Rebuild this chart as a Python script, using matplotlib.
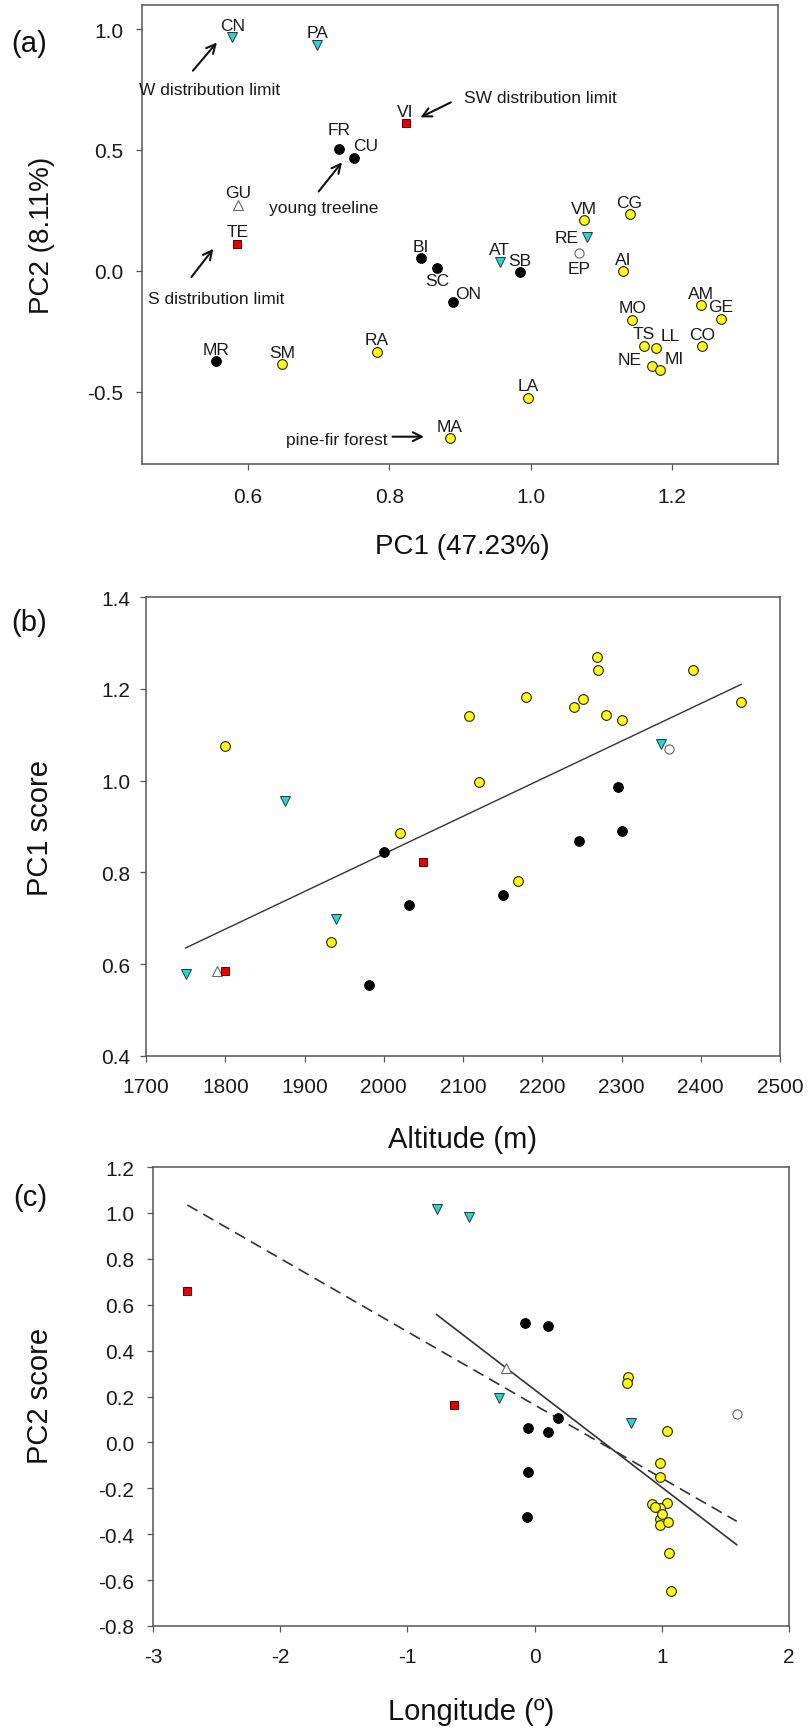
import numpy as np
import matplotlib.pyplot as plt

plt.rcParams['font.family'] = ['Liberation Sans', 'DejaVu Sans']
plt.rcParams['axes.unicode_minus'] = False

# Sites (panel a and b share them)
sites = ['CN', 'PA', 'RE', 'AT', 'VI', 'TE', 'FR', 'CU', 'BI', 'SC', 'ON', 'SB', 'MR', 'GU', 'EP',
         'SM', 'RA', 'LA', 'MA', 'VM', 'CG', 'AI', 'MO', 'AM', 'GE', 'TS', 'LL', 'CO', 'NE', 'MI']
groups = ['cyan'] * 4 + ['red'] * 2 + ['black'] * 7 + ['opentri', 'opencirc'] + ['yellow'] * 15
pc1 = [0.578, 0.698, 1.080, 0.956, 0.823, 0.585, 0.729, 0.750, 0.845, 0.868, 0.890, 0.985, 0.555, 0.586, 1.068,
       0.648, 0.782, 0.996, 0.886, 1.075, 1.140, 1.131, 1.144, 1.241, 1.269, 1.160, 1.177, 1.242, 1.171, 1.183]
pc2 = [0.966, 0.935, 0.139, 0.036, 0.610, 0.112, 0.504, 0.467, 0.052, 0.011, -0.129, -0.006, -0.375, 0.273, 0.073,
       -0.387, -0.336, -0.525, -0.694, 0.208, 0.233, -0.003, -0.202, -0.143, -0.198, -0.311, -0.318, -0.313,
       -0.395, -0.409]
altitude = [1750, 1940, 2350, 1876, 2050, 1800, 2032, 2151, 2000, 2247, 2300, 2296, 1981, 1790, 2360,
            1934, 2170, 2120, 2020, 1800, 2107, 2300, 2280, 2270, 2269, 2240, 2251, 2390, 2451, 2180]

# Panel c: longitude vs PC2 score
lon_c = [-0.771, -0.516, -0.279, 0.755,
         -2.73, -0.634,
         -0.076, 0.103, 0.184, -0.050, 0.103, -0.050, -0.058,
         -0.224, 1.589,
         0.734, 0.726, 1.039, 0.984, 0.984, 0.926, 1.039, 0.984, 0.984, 0.984, 1.045, 1.053, 1.076, 0.95, 1.0]
pc2_c = [1.016, 0.984, 0.193, 0.086,
         0.661, 0.164,
         0.522, 0.507, 0.105, 0.061, 0.047, -0.129, -0.325,
         0.326, 0.124,
         0.286, 0.257, 0.050, -0.091, -0.151, -0.267, -0.263, -0.287, -0.335, -0.360, -0.347, -0.480, -0.647,
         -0.28, -0.31]
groups_c = ['cyan'] * 4 + ['red'] * 2 + ['black'] * 7 + ['opentri', 'opencirc'] + ['yellow'] * 15

# label offsets in pixels (dx, dy) for panel a
label_off = {'CU': (12, 12), 'RE': (-21, 0), 'EP': (0, -15), 'SC': (0, -12), 'ON': (15, 8),
             'LL': (15, 12), 'NE': (-22, 7), 'MI': (14, 11), 'FR': (0, 19), 'AT': (0, 13)}

marker_style = {
    'cyan': dict(marker='v', ms=7.0, mfc='#1ed6dc', mec='#333333', mew=0.7),
    'red': dict(marker='s', ms=6.0, mfc='#e80000', mec='#550000', mew=0.7),
    'black': dict(marker='o', ms=7.0, mfc='black', mec='black', mew=0.7),
    'opentri': dict(marker='^', ms=7.0, mfc='white', mec='#666666', mew=0.8),
    'opencirc': dict(marker='o', ms=6.6, mfc='white', mec='#666666', mew=0.8),
    'yellow': dict(marker='o', ms=7.0, mfc='#ffff00', mec='#222222', mew=0.8),
}

W, H = 810, 1731
fig = plt.figure(figsize=(W / 100, H / 100), dpi=100)


def axes_px(l, t, r, b):
    return fig.add_axes([l / W, 1 - b / H, (r - l) / W, (b - t) / H])


def style(ax, xpad, ypad):
    for s in ax.spines.values():
        s.set_color('#555555')
        s.set_linewidth(1.1)
    ax.tick_params(direction='out', length=4.5, width=0.9, color='#555555', labelsize=15,
                   labelcolor='#1a1a1a', top=False, right=False)
    ax.tick_params(axis='x', pad=xpad)
    ax.tick_params(axis='y', pad=ypad)


def scatter(ax, xs, ys, grps):
    for g in ['yellow', 'black', 'opencirc', 'opentri', 'cyan', 'red']:
        idx = [i for i, gg in enumerate(grps) if gg == g]
        ax.plot([xs[i] for i in idx], [ys[i] for i in idx], ls='none', zorder=3, **marker_style[g])


def ftext(x, y, s, size=20, rot=0):
    fig.text(x / W, 1 - y / H, s, fontsize=size, rotation=rot, ha='center', va='center', color='#111111')


# ---- panel (a)
ax_a = axes_px(142, 6, 778, 465)
style(ax_a, 12, 9)
scatter(ax_a, pc1, pc2, groups)
for s, x, y in zip(sites, pc1, pc2):
    dx, dy = label_off.get(s, (0, 12))
    ax_a.annotate(s, (x, y), xytext=(dx, dy), textcoords='offset pixels', ha='center', va='center',
                  fontsize=12.5, color='#1a1a1a', zorder=4)
ax_a.set_xlim(0.45, 1.35)
ax_a.set_ylim(-0.8, 1.1)
ax_a.set_xticks([0.6, 0.8, 1.0, 1.2])
ax_a.set_yticks([-0.5, 0.0, 0.5, 1.0])
ax_a.set_xticklabels(['0.6', '0.8', '1.0', '1.2'])
ax_a.set_yticklabels(['-0.5', '0.0', '0.5', '1.0'])

notes = [('W distribution limit', (0.545, 0.752), (0.522, 0.828), (0.556, 0.945)),
         ('young treeline', (0.707, 0.260), (0.700, 0.328), (0.733, 0.449)),
         ('S distribution limit', (0.555, -0.116), (0.520, -0.026), (0.551, 0.091)),
         ('SW distribution limit', (1.014, 0.719), (0.887, 0.697), (0.844, 0.635)),
         ('pine-fir forest', (0.726, -0.698), (0.8045, -0.687), (0.849, -0.687))]
for txt, pos, tail, head in notes:
    ax_a.text(pos[0], pos[1], txt, fontsize=12.5, ha='center', va='center', color='#1a1a1a',
              clip_on=False, zorder=4)
    ax_a.annotate('', xy=head, xytext=tail,
                  arrowprops=dict(arrowstyle='->', lw=1.5, color='#111111', mutation_scale=16,
                                  shrinkA=0, shrinkB=0))

ftext(29, 44, '(a)', 21)
ftext(42, 235, 'PC2 (8.11%)', 20, 90)
ftext(462, 547, 'PC1 (47.23%)', 20)

# ---- panel (b)
ax_b = axes_px(146, 598, 780, 1057)
style(ax_b, 10.5, 7)
fit_b = np.polyfit(altitude, pc1, 1)
xb = np.array([min(altitude), max(altitude)])
ax_b.plot(xb, np.polyval(fit_b, xb), color='#333333', lw=1.0, zorder=2)
scatter(ax_b, altitude, pc1, groups)
ax_b.set_xlim(1700, 2500)
ax_b.set_ylim(0.4, 1.4)
ax_b.set_xticks(np.arange(1700, 2501, 100))
ax_b.set_yticks(np.arange(0.4, 1.41, 0.2))
ax_b.set_yticklabels([f'{v:.1f}' for v in np.arange(0.4, 1.41, 0.2)])

ftext(29, 623, '(b)', 21)
ftext(40, 828, 'PC1 score', 21, 90)
ftext(463, 1140, 'Altitude (m)', 21)

# ---- panel (c)
ax_c = axes_px(153, 1168, 789, 1627)
style(ax_c, 10.5, 9)
lon_arr = np.array(lon_c)
pc2_arr = np.array(pc2_c)
fit_all = np.polyfit(lon_arr, pc2_arr, 1)
xa = np.array([lon_arr.min(), lon_arr.max()])
ax_c.plot(xa, np.polyval(fit_all, xa), color='#333333', lw=1.2, ls=(0, (7, 4)), zorder=2)
sub = lon_arr > -2
fit_sub = np.polyfit(lon_arr[sub], pc2_arr[sub], 1)
xs_ = np.array([lon_arr[sub].min(), lon_arr[sub].max()])
ax_c.plot(xs_, np.polyval(fit_sub, xs_), color='#333333', lw=1.2, zorder=2)
scatter(ax_c, lon_c, pc2_c, groups_c)
ax_c.set_xlim(-3, 2)
ax_c.set_ylim(-0.8, 1.2)
ax_c.set_xticks(np.arange(-3, 3, 1))
ax_c.set_yticks(np.arange(-0.8, 1.21, 0.2))
ax_c.set_yticklabels([f'{v:.1f}' if abs(v) > 1e-9 else '0.0' for v in np.arange(-0.8, 1.21, 0.2)])

ftext(30, 1198, '(c)', 21)
ftext(40, 1396, 'PC2 score', 21, 90)
ftext(471, 1712, 'Longitude (º)', 21)

fig.savefig('out.png', dpi=100)
